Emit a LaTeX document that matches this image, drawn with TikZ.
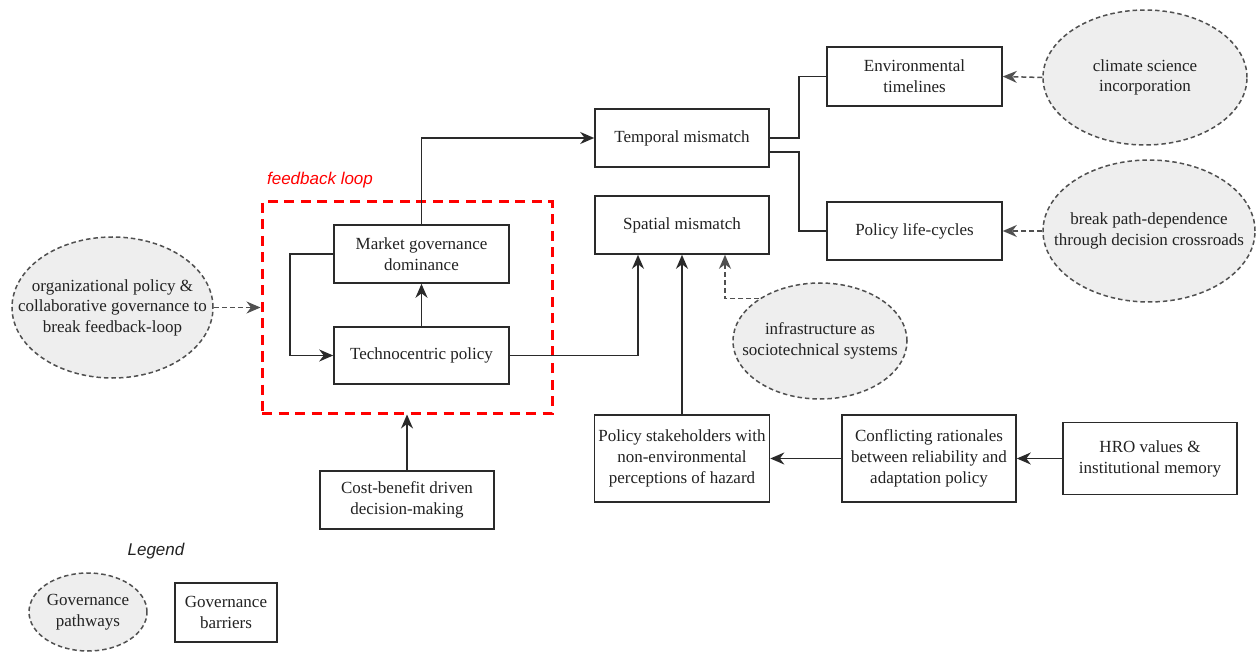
\documentclass[tikz,border=0pt]{standalone}
\usepackage{fontspec}
\setmainfont{Liberation Serif}
\setsansfont{Liberation Sans}
\usetikzlibrary{arrows.meta,shapes.geometric,calc}
\definecolor{ink}{HTML}{222222}
\definecolor{edge}{HTML}{2A2A2A}
\definecolor{soft}{HTML}{505050}
\definecolor{pathfill}{HTML}{EEEEEE}
\tikzset{
  barrier/.style={draw=edge, line width=1.6pt, fill=white, text=ink, align=center,
    inner sep=0pt, font=\fontsize{17}{21}\selectfont},
  pathway/.style={ellipse, draw=soft, line width=1.5pt, dash pattern=on 4.5pt off 3pt,
    fill=pathfill, inner sep=0pt},
  ptext/.style={text=ink, align=center, inner sep=0pt, font=\fontsize{17}{20.5}\selectfont},
  tip/.style={-{Stealth[length=14pt,width=12pt,inset=4.5pt]}},
  link/.style={draw=edge, line width=1.6pt, tip},
  plain/.style={draw=edge, line width=1.6pt},
  dlink/.style={draw=soft, line width=1.5pt, dash pattern=on 5pt off 3pt,
    -{Stealth[length=14pt,width=12pt,inset=4.5pt,fill=soft]}},
  loopframe/.style={draw=red, line width=3pt, dash pattern=on 10pt off 6.5pt, inner sep=0pt},
  caption/.style={font=\fontsize{17}{20}\selectfont\sffamily\itshape, inner sep=0pt}
}
\begin{document}
\begin{tikzpicture}[x=1pt,y=-1pt]
\path[use as bounding box, fill=white] (0,0) rectangle (1256,652);

% feedback loop frame
\node[loopframe, minimum width=290pt, minimum height=211pt] (fb) at (407,307.5) {};
\node[caption, text=red] (fbl) at (320,180) {feedback loop};

% barriers
\node[barrier, minimum width=175pt, minimum height=58pt] (mkt) at (421.5,254) {Market governance\\dominance};
\node[barrier, minimum width=175pt, minimum height=57pt] (tech) at (421.5,355.5) {Technocentric policy};
\node[barrier, minimum width=174pt, minimum height=58pt] (cost) at (407,500) {Cost-benefit driven\\decision-making};
\node[barrier, minimum width=174pt, minimum height=58pt] (temp) at (682,138) {Temporal mismatch};
\node[barrier, minimum width=174pt, minimum height=58pt] (spat) at (682,225) {Spatial mismatch};
\node[barrier, minimum width=175pt, minimum height=59pt] (env) at (914.5,76.5) {Environmental\\timelines};
\node[barrier, minimum width=175pt, minimum height=58pt] (plc) at (914.5,231) {Policy life-cycles};
\node[barrier, minimum width=175pt, minimum height=87pt] (stake) at (682,458.5) {Policy stakeholders with\\non-environmental\\perceptions of hazard};
\node[barrier, minimum width=174pt, minimum height=87pt] (confl) at (929,458.5) {Conflicting rationales\\between reliability and\\adaptation policy};
\node[barrier, minimum width=174pt, minimum height=72pt] (hro) at (1150,458.5) {HRO values \&\\institutional memory};

% pathways
\node[pathway, minimum width=201pt, minimum height=141pt] (org) at (112.5,307.5) {};
\node[ptext] (orgt) at (org) {organizational policy \&\\collaborative governance to\\break feedback-loop};
\node[pathway, minimum width=204pt, minimum height=135pt] (clim) at (1145,77.5) {};
\node[ptext] (climt) at (clim) {climate science\\incorporation};
\node[pathway, minimum width=212pt, minimum height=142pt] (brk) at (1149,231) {};
\node[ptext] (brkt) at (brk) {break path-dependence\\through decision crossroads};
\node[pathway, minimum width=174pt, minimum height=116pt] (infra) at (820,341) {};
\node[ptext] (infrat) at (infra) {infrastructure as\\sociotechnical systems};

% legend
\node[caption, text=ink] (leg) at (156,551) {Legend};
\node[pathway, minimum width=118pt, minimum height=78pt] (lgp) at (88,612) {};
\node[ptext] (lgpt) at (lgp) {Governance\\pathways};
\node[barrier, minimum width=102pt, minimum height=59pt] (lgb) at (226,612.5) {Governance\\barriers};

% connectors
\draw[link] (mkt.north) |- (temp.west);
\draw[link] (mkt.west) -- ++(-43,0) |- (tech.west);
\draw[link] (tech.north) -- (mkt.south);
\draw[link] (tech.east) -| ($(spat.south)+(-44,0)$);
\draw[link] (cost.north) -- (fb.south);
\draw[link] (stake.north) -- (spat.south);
\draw[link] (hro.west) -- (confl.east);
\draw[link] (confl.west) -- (stake.east);
\draw[plain] (temp.east) -- ++(29,0) |- (env.west);
\draw[plain] ($(temp.east)+(0,14)$) -- ++(29,0) |- (plc.west);

\draw[dlink] (org.east) -- (fb.west);
\draw[dlink] (clim.west) -- (env.east);
\draw[dlink] (brk.west) -- (plc.east);
\draw[dlink] (infra.145) -| ($(spat.south)+(43,0)$);
\end{tikzpicture}
\end{document}
